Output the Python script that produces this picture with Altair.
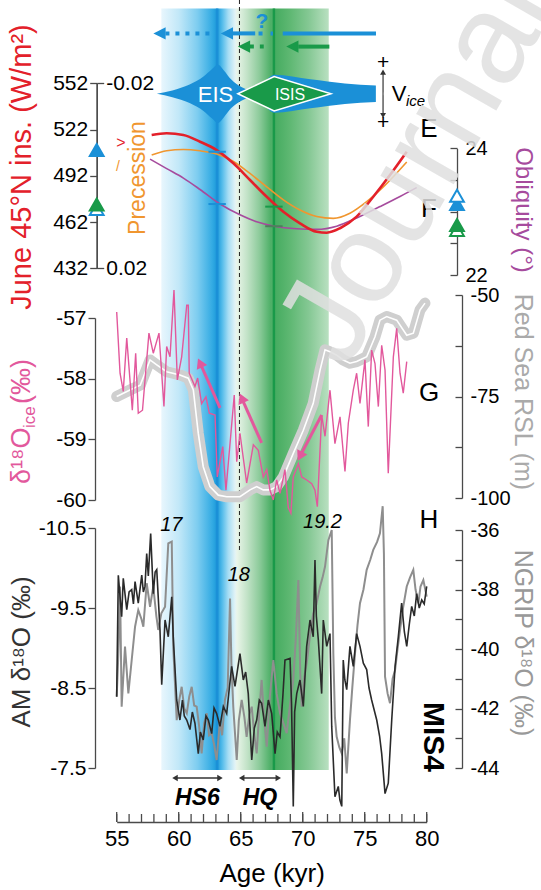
import altair as alt
import pandas as pd
import math

FONT = "Liberation Sans"
PLOT_W, PLOT_H = 310, 822
PAD_L = 116.7
PAD_R = 541 - PAD_L - PLOT_W
PAD_B = 890 - PLOT_H
AGE_DOMAIN = [55, 80]

# value domain -> pixel rows of each panel
S_VICE = ([-1, 1], [123.1, 64.5])
S_INS = ([432, 552], [268.3, 83.3])
S_PREC = ([-0.02, 0.02], [83.3, 268.3])
S_OBL = ([22, 24], [275, 148.3])
S_ICE = ([-60, -57], [500, 318])
S_RSL = ([-100, -50], [498, 295])
S_AM = ([-10.5, -7.5], [528, 768])
S_NG = ([-44, -36], [768, 530])

# ---------------- data ----------------
x_major = [55, 60, 65, 70, 75, 80]
x_minor = list(range(55, 81))

band_start, band_end = 58.6, 72.1
eis_age, isis_age, dash_age = 63.1, 67.68, 64.9
band_stop_age = [58.6, 60.0, 61.5, 62.7, 63.1, 63.5, 64.0, 64.55, 64.7, 65.5, 66.5, 67.4, 67.9, 69.0, 70.5, 72.1]
band_stop_col = ["#e8f6fd", "#c2e8f8", "#7ecdf0", "#33abe3", "#1c99da", "#52bbea", "#a6ddf4", "#e2f3f6",
                 "#e9f5e9", "#c3e3c8", "#8dcb9b", "#4fb068", "#48ad62", "#5fb873", "#85c894", "#b9e0c1"]

# ice-volume outline (half thickness, arbitrary units)
shape_age = [58.24, 59.49, 60.88, 62.0, 62.69, 63.15, 63.66, 64.22, 65.06, 65.89, 66.31, 67.0, 67.7, 70.62, 73.4, 75.9]
shape_half = [0.0, 0.116, 0.317, 0.587, 0.846, 1.0, 0.79, 0.495, 0.235, 0.116, 0.164, 0.437, 0.65, 0.495, 0.35, 0.28]
isis_shape_age = [64.77, 67.7, 72.28]
isis_shape_half = [0.0, 0.587, 0.0]
vice_age = 76.48

# orbital curves
ins_age = [57.82, 59.03, 60.38, 61.72, 63.06, 64.41, 65.75, 67.1, 68.44, 69.78, 71.13, 71.94, 73.01, 74.35, 75.69, 77.04, 78.39]
ins_val = [518.5, 519.6, 518.5, 514.1, 508.7, 500.1, 489.3, 478.4, 468.7, 461.2, 455.7, 455.1, 458.0, 465.5, 478.4, 492.5, 507.6]
prec_age = [57.82, 59.03, 60.38, 61.72, 63.06, 64.41, 65.75, 67.1, 68.44, 69.78, 71.13, 72.47, 73.81, 75.16, 76.5, 78.39]
prec_val = [-0.0045, -0.0054, -0.0057, -0.0054, -0.0047, -0.0031, -0.0005, 0.0024, 0.0052, 0.0074, 0.0088, 0.0092, 0.0081, 0.0056, 0.0024, -0.0030]
obl_age = [57.69, 59.03, 60.38, 61.72, 63.33, 64.94, 66.29, 67.71, 69.52, 71.13, 72.74, 74.35, 76.23, 77.85, 79.19]
obl_val = [23.83, 23.68, 23.53, 23.35, 23.12, 22.95, 22.84, 22.77, 22.73, 22.72, 22.77, 22.90, 23.08, 23.24, 23.38]
ins_mark_val = [507.6, 472.0]
obl_mark_val = [23.12, 22.77]
ins_tri_val = [508.7, 470.4, 473.4]
ins_tri_kind = ["blue_f", "blue_o", "green_f"]
obl_tri_val = [23.12, 23.25, 22.71, 22.79]
obl_tri_kind = ["blue_f", "blue_o", "green_o", "green_f"]

# delta18O ice
ice_age = [55.0, 55.27, 55.53, 55.81, 56.26, 56.53, 56.74, 57.08, 57.6, 57.95, 58.41, 58.81, 59.03, 59.3, 59.62, 59.89,
           60.24, 60.65, 60.77, 60.85, 61.31, 61.53, 61.85, 62.2, 62.47, 62.93, 63.11, 63.55, 63.81, 64.48, 64.68, 64.94,
           65.48, 66.02, 66.42, 66.82, 67.1, 67.36, 67.63, 67.9, 68.17, 68.57, 68.84, 69.05, 69.24, 69.65, 69.92, 70.32,
           70.73, 70.99, 71.18, 71.53, 71.8, 72.2, 72.6, 73.01, 73.41, 73.68, 74.08, 74.35, 74.62, 75.02, 75.29, 75.56,
           75.83, 76.1, 76.37, 76.64, 76.9, 77.31, 77.58, 77.85, 78.11, 78.39]
ice_val = [-56.90, -57.91, -58.21, -57.33, -58.52, -57.58, -58.57, -58.52, -57.25, -57.58, -57.25, -58.46, -57.47, -57.64,
           -56.54, -58.02, -57.64, -56.79, -56.79, -57.91, -58.13, -57.99, -58.41, -58.30, -58.57, -58.60, -59.62, -59.12,
           -59.84, -58.27, -59.37, -58.90, -59.72, -59.09, -59.18, -59.62, -59.50, -59.84, -60.0, -59.67, -59.89, -59.50,
           -60.13, -60.22, -59.62, -59.40, -59.62, -59.67, -59.73, -59.84, -60.11, -58.60, -58.95, -58.19, -59.07, -58.63,
           -59.53, -58.73, -58.19, -57.91, -58.41, -57.69, -58.79, -57.53, -57.75, -58.46, -57.45, -57.86, -59.56, -57.64,
           -57.17, -57.91, -58.24, -57.72]
ice_arrow_from_age = [63.33, 66.69, 71.53]
ice_arrow_from_val = [-58.48, -59.06, -58.60]
ice_arrow_to_age = [61.72, 65.08, 69.78]
ice_arrow_to_val = [-57.74, -58.32, -59.28]

# Red Sea relative sea level
rsl_age = [55.0, 56.07, 56.9, 57.69, 58.23, 59.03, 60.1, 60.77, 61.18, 61.58, 61.98, 62.52, 63.19, 63.87, 64.94, 65.75,
           66.29, 66.82, 67.36, 67.9, 68.44, 69.24, 70.05, 70.85, 71.4, 71.8, 72.2, 72.74, 73.27, 73.81, 74.35, 75.16,
           75.83, 76.23, 76.77, 77.58, 78.39, 78.92, 79.46, 79.86]
rsl_val = [-75.0, -73.4, -72.2, -66.0, -67.2, -68.9, -69.7, -70.5, -73.4, -84.1, -92.3, -97.2, -99.3, -99.7, -99.7, -98.0,
           -97.2, -98.0, -98.0, -97.2, -94.8, -89.0, -83.3, -76.7, -68.5, -63.5, -64.0, -64.8, -66.0, -66.8, -66.4, -65.2,
           -60.3, -56.2, -55.3, -56.2, -59.9, -59.4, -53.7, -52.0]

# Asian monsoon delta18O
am_age = [55.0, 55.13, 55.4, 55.53, 55.81, 56.0, 56.21, 56.35, 56.48, 56.74, 57.02, 57.15, 57.28, 57.42, 57.55, 57.74,
          57.95, 58.1, 58.23, 58.49, 58.63, 58.9, 59.16, 59.44, 59.56, 59.84, 60.1, 60.3, 60.45, 60.65, 60.91, 61.1,
          61.31, 61.58, 61.75, 61.98, 62.2, 62.39, 62.66, 62.85, 63.06, 63.33, 63.6, 63.87, 64.05, 64.27, 64.54, 64.94,
          65.21, 65.4, 65.61, 65.89, 66.1, 66.29, 66.5, 66.69, 66.96, 67.23, 67.5, 67.77, 67.95, 68.17, 68.4, 68.57,
          68.98, 69.1, 69.24, 69.35, 69.52, 69.78, 70.05, 70.32, 70.59, 70.85, 70.99, 71.1, 71.26, 71.53, 71.66, 71.94,
          72.2, 72.34, 72.6, 72.87, 73.0, 73.15, 73.27, 73.4, 73.55, 73.81, 74.08, 74.35, 74.62, 74.89, 75.16, 75.35,
          75.56, 75.97, 76.2, 76.37, 76.64, 76.9, 77.18, 77.45, 77.71, 77.98, 78.2, 78.39, 78.6, 78.79, 79.0, 79.19,
          79.4, 79.6, 79.8, 80.0]
am_val = [-8.39, -9.91, -9.39, -9.87, -9.48, -9.7, -9.73, -9.55, -9.83, -9.56, -9.91, -9.7, -9.77, -10.18, -9.9, -10.43,
          -9.68, -9.95, -9.98, -9.23, -8.54, -9.35, -9.14, -9.64, -9.14, -8.35, -8.10, -8.35, -8.15, -8.10, -7.98, -8.2,
          -8.06, -7.68, -7.95, -7.85, -8.15, -8.10, -7.93, -8.25, -8.18, -8.02, -8.27, -8.18, -8.45, -8.77, -8.52, -8.93,
          -8.6, -8.7, -8.43, -7.6, -8.0, -8.10, -8.35, -8.31, -8.02, -8.35, -8.18, -7.68, -7.95, -7.89, -8.4, -8.85,
          -8.87, -8.3, -7.02, -8.2, -8.43, -8.6, -8.27, -9.02, -9.35, -9.14, -10.1, -9.4, -9.1, -8.43, -9.35, -9.02,
          -9.18, -8.02, -7.14, -7.27, -7.1, -7.02, -8.85, -8.6, -8.48, -9.02, -8.77, -9.18, -9.02, -8.81, -8.73, -8.5,
          -8.35, -8.1, -7.9, -7.68, -7.18, -7.31, -8.1, -8.77, -9.14, -9.56, -9.2, -9.02, -9.3, -9.52, -9.4, -9.68,
          -9.5, -9.6, -9.55, -9.77]

# NGRIP delta18O
ng_age = [55.0, 55.13, 55.27, 55.4, 55.67, 55.94, 56.21, 56.48, 56.74, 57.0, 57.15, 57.42, 57.69, 57.95, 58.2, 58.35,
          58.6, 58.9, 59.16, 59.44, 59.56, 59.84, 60.05, 60.24, 60.45, 60.65, 60.85, 61.05, 61.25, 61.45, 61.65, 61.85,
          62.05, 62.26, 62.45, 62.66, 62.85, 63.06, 63.33, 63.5, 63.73, 63.95, 64.14, 64.25, 64.4, 64.68, 64.85, 65.08,
          65.3, 65.48, 65.7, 65.89, 66.1, 66.29, 66.5, 66.69, 66.9, 67.1, 67.35, 67.63, 67.9, 68.17, 68.45, 68.71, 69.0,
          69.24, 69.45, 69.65, 69.8, 69.92, 70.1, 70.32, 70.6, 70.85, 71.1, 71.4, 71.6, 71.8, 72.07, 72.34, 72.47, 72.6,
          72.74, 72.95, 73.15, 73.35, 73.55, 73.81, 74.0, 74.22, 74.42, 74.62, 74.9, 75.16, 75.45, 75.69, 76.0, 76.23,
          76.45, 76.55, 76.64, 76.85, 77.04, 77.25, 77.45, 77.65, 77.85, 78.1, 78.39, 78.65, 78.92, 79.1, 79.33, 79.5,
          79.73, 80.0]
ng_val = [-41.6, -40.2, -37.9, -41.94, -39.92, -41.49, -40.37, -39.25, -38.69, -39.0, -39.25, -37.79, -38.58, -37.9,
          -38.9, -39.36, -38.8, -38.58, -36.45, -36.39, -39.92, -42.39, -41.7, -41.27, -42.0, -42.16, -41.6, -41.27,
          -41.9, -41.94, -42.6, -43.51, -42.5, -42.16, -42.9, -42.83, -43.2, -43.73, -42.39, -42.9, -41.71, -41.3,
          -38.3, -40.5, -41.94, -43.73, -42.4, -41.71, -42.3, -42.95, -42.2, -41.94, -42.9, -43.51, -42.1, -41.04,
          -42.4, -43.28, -41.6, -40.37, -41.5, -42.16, -42.5, -42.83, -41.8, -41.04, -39.6, -37.68, -40.8, -41.94,
          -41.0, -40.48, -39.5, -38.8, -38.5, -37.9, -37.6, -37.23, -36.34, -36.0, -40.14, -42.3, -42.95, -43.3,
          -43.51, -43.0, -44.18, -42.39, -41.3, -40.14, -39.2, -38.46, -38.0, -37.34, -37.0, -36.67, -36.4, -36.11,
          -35.2, -36.8, -40.93, -41.5, -41.82, -41.0, -40.71, -40.0, -39.36, -38.6, -37.9, -37.6, -37.34, -38.0,
          -38.46, -37.9, -37.68, -38.24]

# top arrows (ages)
blue_solid = [(64.35, 66.17), (68.39, 75.91)]
blue_dot = [(58.93, 62.69)]
blue_dot2 = [(66.44, 67.6)]
blue_tip = [63.39, 57.96]
green_solid = [(69.64, 72.15)]
green_dot = [(65.74, 66.86)]
green_tip = [68.67, 64.77]

# Heinrich stadials
hs_from = [59.7, 65.08]
hs_to = [63.33, 68.03]
hs_label = ["HS6", "HQ"]

BLUE = "#1b90d7"
GREEN = "#199a49"
RED = "#e3202a"
ORANGE = "#f0962f"
PURPLE = "#a64b9d"
PINK = "#e2589c"


# ---------------- helpers ----------------
def xsc():
    return alt.Scale(domain=AGE_DOMAIN, nice=False, zero=False)


def X(field="age", axis=None):
    return alt.X(f"{field}:Q", scale=xsc(), axis=axis)


def Y(field, s, axis=None):
    return alt.Y(f"{field}:Q", scale=alt.Scale(domain=s[0], range=s[1], nice=False, zero=False), axis=axis)


def px_x(age):
    return (age - AGE_DOMAIN[0]) / (AGE_DOMAIN[1] - AGE_DOMAIN[0]) * PLOT_W


def px_y(v, s):
    (d0, d1), (r0, r1) = s
    return r0 + (v - d0) / (d1 - d0) * (r1 - r0)


def line(ages, vals, s, **mk):
    df = pd.DataFrame({"age": ages, "val": vals})
    return alt.Chart(df).mark_line(**mk).encode(x=X(), y=Y("val", s))


def text(t, px, py, size, color="black", angle=0, **kw):
    mk = dict(fontSize=size, color=color, font=FONT, align=kw.pop("align", "center"),
              baseline=kw.pop("baseline", "middle"))
    if angle:
        mk["angle"] = angle
    mk.update(kw)
    return alt.Chart(pd.DataFrame({"t": [t]})).mark_text(**mk).encode(
        x=alt.value(px - PAD_L), y=alt.value(py), text="t:N")


AX = dict(title=None, grid=False, domainColor="#4a4a4a", tickColor="#4a4a4a", domainWidth=1.3, tickWidth=1.3,
          labelFont=FONT, labelFontSize=21, labelColor="black", labelOverlap=False, labelFlush=False,
          labelExpr="replace(datum.label, '\u2212', '-')")


def axis_layer(vals, s, **kw):
    a = dict(AX)
    a.update(kw)
    return alt.Chart(pd.DataFrame({"v": vals})).mark_point(opacity=0).encode(
        y=Y("v", s, axis=alt.Axis(**a)))


layers = []

# ---- shaded bands ----
grad = alt.LinearGradient(
    gradient="linear", x1=0, x2=1, y1=0, y2=0,
    stops=[alt.GradientStop(color=c, offset=(a - band_start) / (band_end - band_start))
           for a, c in zip(band_stop_age, band_stop_col)])
layers.append(alt.Chart(pd.DataFrame({"a": [band_start], "b": [band_end]})).mark_rect(color=grad).encode(
    x=X("a"), x2="b:Q", y=alt.value(8.6), y2=alt.value(770)))
layers.append(alt.Chart(pd.DataFrame({"age": [eis_age, isis_age], "c": [BLUE, GREEN]})).mark_rule(strokeWidth=2.5).encode(
    x=X(), y=alt.value(8.6), y2=alt.value(770), color=alt.Color("c:N", scale=None)))
layers.append(alt.Chart(pd.DataFrame({"age": [dash_age]})).mark_rule(strokeWidth=1, color="#222", strokeDash=[4, 3]).encode(
    x=X(), y=alt.value(0), y2=alt.value(553)))

# ---- ice sheet shape ----
sdf = pd.DataFrame({"age": shape_age, "hi": shape_half, "lo": [-h for h in shape_half]})
layers.append(alt.Chart(sdf).mark_area(color=BLUE, interpolate="monotone").encode(
    x=X(), y=Y("hi", S_VICE), y2="lo:Q"))
idf = pd.DataFrame({"age": isis_shape_age, "hi": isis_shape_half, "lo": [-h for h in isis_shape_half]})
layers.append(alt.Chart(idf).mark_area(color=GREEN, stroke="white", strokeWidth=1.5).encode(
    x=X(), y=Y("hi", S_VICE), y2="lo:Q"))
layers.append(text("EIS", 215.5, 95, 22, "white"))
layers.append(text("ISIS", 290, 95, 16, "white"))
# V_ice double arrow
vdf = pd.DataFrame({"age": [vice_age], "a": [-0.74], "b": [0.74]})
layers.append(alt.Chart(vdf).mark_rule(color="#333", strokeWidth=1.2).encode(x=X(), y=Y("a", S_VICE), y2="b:Q"))
layers.append(alt.Chart(pd.DataFrame({"age": [vice_age, vice_age], "v": [0.74, -0.74], "s": ["triangle-up", "triangle-down"]}))
              .mark_point(filled=True, color="#333", size=35, opacity=1).encode(
    x=X(), y=Y("v", S_VICE), shape=alt.Shape("s:N", scale=None)))
layers.append(alt.Chart(pd.DataFrame({"age": [vice_age], "a": [-0.05], "b": [0.05]}))
              .mark_rule(color="#999", strokeWidth=1).encode(x=X(), y=Y("a", S_VICE), y2="b:Q"))
layers.append(alt.Chart(pd.DataFrame({"age": [vice_age, vice_age], "v": [1.04, -1.0], "t": ["+", "+"]}))
              .mark_text(fontSize=21, font=FONT, color="black").encode(x=X(), y=Y("v", S_VICE), text="t:N"))
layers.append(text("V", 399, 94, 22, "black"))
layers.append(text("ice", 406, 101, 15, "black", align="left", fontStyle="italic"))

# ---- top arrows ----
def seg_layer(segs, py, color, dash=None):
    df = pd.DataFrame({"a": [s[0] for s in segs], "b": [s[1] for s in segs]})
    mk = dict(color=color, strokeWidth=4)
    if dash:
        mk["strokeDash"] = dash
    return alt.Chart(df).mark_rule(**mk).encode(x=X("a"), x2="b:Q", y=alt.value(py))


HEAD = "M0,0L1,-0.5L1,0.5Z"
layers.append(seg_layer(blue_solid, 33.4, BLUE))
layers.append(seg_layer(blue_dot, 33.4, BLUE, [4, 6]))
layers.append(seg_layer(blue_dot2, 33.4, BLUE, [4, 8]))
layers.append(seg_layer(green_solid, 46.6, GREEN))
layers.append(seg_layer(green_dot, 46.6, GREEN, [4, 6]))
layers.append(alt.Chart(pd.DataFrame({"age": blue_tip})).mark_point(shape=HEAD, filled=True, color=BLUE, size=600, opacity=1)
              .encode(x=X(), y=alt.value(33.4)))
layers.append(alt.Chart(pd.DataFrame({"age": green_tip})).mark_point(shape=HEAD, filled=True, color=GREEN, size=600, opacity=1)
              .encode(x=X(), y=alt.value(46.6)))
layers.append(text("?", 262, 22, 21, BLUE, fontWeight="bold"))

# ---- orbital panel ----
layers.append(line(obl_age, obl_val, S_OBL, color=PURPLE, strokeWidth=1.6, interpolate="monotone"))
layers.append(line(prec_age, prec_val, S_PREC, color=ORANGE, strokeWidth=1.6, interpolate="monotone"))
layers.append(line(ins_age, ins_val, S_INS, color=RED, strokeWidth=2.6, interpolate="monotone"))
MW = 0.7
mk_df = pd.DataFrame({"a": [eis_age - MW, isis_age - MW], "b": [eis_age + MW, isis_age + MW],
                      "v": ins_mark_val, "c": [BLUE, GREEN]})
layers.append(alt.Chart(mk_df).mark_rule(strokeWidth=2).encode(x=X("a"), x2="b:Q", y=Y("v", S_INS),
                                                                color=alt.Color("c:N", scale=None)))
mk_df2 = pd.DataFrame({"a": [eis_age - MW, isis_age - MW], "b": [eis_age + MW, isis_age + MW],
                       "v": obl_mark_val, "c": [BLUE, "#4f7f5d"]})
layers.append(alt.Chart(mk_df2).mark_rule(strokeWidth=2).encode(x=X("a"), x2="b:Q", y=Y("v", S_OBL),
                                                                 color=alt.Color("c:N", scale=None)))

TRI = {"blue_f": (BLUE, BLUE), "blue_o": ("white", BLUE), "green_f": (GREEN, GREEN), "green_o": ("white", GREEN)}
tdf = pd.DataFrame({"v": ins_tri_val, "f": [TRI[k][0] for k in ins_tri_kind], "s": [TRI[k][1] for k in ins_tri_kind]})
layers.append(alt.Chart(tdf).mark_point(shape="triangle-up", size=190, strokeWidth=2, opacity=1, filled=True).encode(
    x=alt.value(-20), y=Y("v", S_INS), fill=alt.Fill("f:N", scale=None), stroke=alt.Stroke("s:N", scale=None)))
tdf2 = pd.DataFrame({"v": obl_tri_val, "f": [TRI[k][0] for k in obl_tri_kind], "s": [TRI[k][1] for k in obl_tri_kind]})
layers.append(alt.Chart(tdf2).mark_point(shape="triangle-up", size=190, strokeWidth=2, opacity=1, filled=True).encode(
    x=alt.value(340.3), y=Y("v", S_OBL), fill=alt.Fill("f:N", scale=None), stroke=alt.Stroke("s:N", scale=None)))

# ---- G panel ----
layers.append(line(rsl_age, rsl_val, S_RSL, color="#cfcfcf", strokeWidth=11, strokeJoin="round", strokeCap="round"))
layers.append(line(rsl_age, rsl_val, S_RSL, color="white", strokeWidth=1.6))
layers.append(line(ice_age, ice_val, S_ICE, color=PINK, strokeWidth=1.4))
adf = pd.DataFrame({"a": ice_arrow_from_age, "b": ice_arrow_to_age, "v": ice_arrow_from_val, "w": ice_arrow_to_val})
layers.append(alt.Chart(adf).mark_rule(color=PINK, strokeWidth=3).encode(x=X("a"), x2="b:Q", y=Y("v", S_ICE), y2="w:Q"))
ang = []
for a0, v0, a1, v1 in zip(ice_arrow_from_age, ice_arrow_from_val, ice_arrow_to_age, ice_arrow_to_val):
    dx = px_x(a1) - px_x(a0)
    dy = px_y(v1, S_ICE) - px_y(v0, S_ICE)
    ang.append(math.degrees(math.atan2(dx, -dy)) % 360)
hdf = pd.DataFrame({"age": ice_arrow_to_age, "v": ice_arrow_to_val, "ang": ang})
layers.append(alt.Chart(hdf).mark_point(shape="triangle-up", filled=True, color=PINK, size=130, opacity=1).encode(
    x=X(), y=Y("v", S_ICE), angle=alt.Angle("ang:Q", scale=None)))

# ---- H panel ----
layers.append(line(ng_age, ng_val, S_NG, color="#8e8e8e", strokeWidth=2))
layers.append(line(am_age, am_val, S_AM, color="#2a2a2a", strokeWidth=1.6))

# ---- axes ----
layers.append(axis_layer([432, 462, 492, 522, 552], S_INS, orient="left", offset=20, values=[432, 462, 492, 522, 552],
                         tickSize=7, labelPadding=2))
layers.append(axis_layer([-0.02, 0.02], S_PREC, orient="right", offset=-(PLOT_W + 20), values=[-0.02, 0.02],
                         tickSize=7, labelPadding=2, format=".2f"))
layers.append(axis_layer([22, 24], S_OBL, orient="left", offset=-340.3, values=[22, 22.5, 23, 23.5, 24],
                         tickSize=7, labels=False))
layers.append(axis_layer([22, 24], S_OBL, orient="right", offset=340.3 - PLOT_W, values=[22, 23, 24],
                         ticks=False, domain=False, labelPadding=8, format="d", labelFontSize=20))
layers.append(axis_layer([-60, -57], S_ICE, orient="left", offset=21.7, values=[-60, -59, -58, -57],
                         tickSize=7, labelPadding=2))
layers.append(axis_layer([-100, -50], S_RSL, orient="left", offset=-345.3, values=[-100, -87.5, -75, -62.5, -50],
                         tickSize=7, labels=False))
layers.append(axis_layer([-100, -50], S_RSL, orient="right", offset=345.3 - PLOT_W, values=[-100, -75, -50],
                         ticks=False, domain=False, labelPadding=8, labelFontSize=20))
layers.append(axis_layer([-10.5, -7.5], S_AM, orient="left", offset=21.7, values=[-10.5, -9.5, -8.5, -7.5],
                         tickSize=7, labelPadding=2, format=".1f"))
layers.append(axis_layer([-44, -36], S_NG, orient="left", offset=-345.3, values=[-44, -43, -42, -41, -40, -39, -38, -37, -36],
                         tickSize=7, labels=False))
layers.append(axis_layer([-44, -36], S_NG, orient="right", offset=345.3 - PLOT_W, values=[-44, -42, -40, -38, -36],
                         ticks=False, domain=False, labelPadding=8, labelFontSize=20))

# x axis with inward ticks
tick_df = pd.DataFrame({"age": x_minor})
layers.append(alt.Chart(tick_df).mark_rule(color="#4a4a4a", strokeWidth=1.3).encode(
    x=X(), y=alt.value(PLOT_H - 8), y2=alt.value(PLOT_H)))
layers.append(alt.Chart(pd.DataFrame({"age": x_major})).mark_rule(color="#4a4a4a", strokeWidth=1.3).encode(
    x=X(axis=alt.Axis(orient="bottom", values=x_major, ticks=False, domain=True, domainColor="#4a4a4a", domainWidth=1.3,
                      labelFont=FONT, labelFontSize=22, labelColor="black", labelPadding=6, labelFlush=False,
                      title="Age (kyr)", titleFont=FONT, titleFontSize=26, titleFontWeight="normal",
                      titleColor="black", titlePadding=11, grid=False)),
    y=alt.value(PLOT_H - 10), y2=alt.value(PLOT_H)))

# Heinrich arrows
hsd = pd.DataFrame({"a": hs_from, "b": hs_to})
layers.append(alt.Chart(hsd).mark_rule(color="#333", strokeWidth=1.3).encode(x=X("a"), x2="b:Q", y=alt.value(778)))
layers.append(alt.Chart(pd.DataFrame({"age": hs_from})).mark_point(shape="triangle-left", filled=True, color="#333", size=40, opacity=1)
              .encode(x=X(), y=alt.value(778)))
layers.append(alt.Chart(pd.DataFrame({"age": hs_to})).mark_point(shape="triangle-right", filled=True, color="#333", size=40, opacity=1)
              .encode(x=X(), y=alt.value(778)))
layers.append(alt.Chart(pd.DataFrame({"age": [(a + b) / 2 for a, b in zip(hs_from, hs_to)], "t": hs_label}))
              .mark_text(fontSize=23, font=FONT, fontWeight="bold", fontStyle="italic", color="black").encode(
    x=X(), y=alt.value(798), text="t:N"))

# ---- titles and annotations ----
layers.append(text("June 45°N ins. (W/m²)", 22, 167, 29, RED, angle=270))
layers.append(text("Precession", 138, 178, 23, ORANGE, angle=270))
layers.append(text(">", 121, 143, 16, RED))
layers.append(text("/", 118, 167, 14, ORANGE))
layers.append(text("δ¹⁸O", 22, 484, 27, PINK, angle=270, align="left"))
layers.append(text("ice", 30, 428, 17, PINK, angle=270, align="left"))
layers.append(text("(‰)", 22, 404, 27, PINK, angle=270, align="left"))
layers.append(text("AM δ¹⁸O (‰)", 22, 652, 26, "#333333", angle=270))
layers.append(text("Obliquity (°)", 523, 210, 24, PURPLE, angle=90))
layers.append(text("Red Sea RSL (m)", 523, 392, 25, "#aaaaaa", angle=90))
layers.append(text("NGRIP δ¹⁸O (‰)", 523, 643, 25, "#999999", angle=90))
for lab, py in [("E", 129), ("F", 209), ("G", 393), ("H", 520)]:
    layers.append(text(lab, 429, py, 26))
layers.append(text("MIS4", 433, 737, 30, fontWeight="bold", angle=90))
layers.append(alt.Chart(pd.DataFrame({"age": [59.4, 64.85, 71.6], "t": ["17", "18", "19.2"], "y": [525, 575, 522]}))
              .mark_text(fontSize=20, font=FONT, fontStyle="italic", color="black").encode(
    x=X(), y=alt.Y("y:Q", scale=None), text="t:N"))

# watermark
layers.append(text("Journal", 418, 170, 128, "#e0e0e0", angle=300, opacity=0.85))

chart = alt.layer(*layers).resolve_scale(y="independent").resolve_axis(x="independent").properties(
    width=PLOT_W, height=PLOT_H,
    padding={"left": PAD_L, "top": 0, "right": PAD_R, "bottom": PAD_B},
    autosize=alt.AutoSizeParams(type="none"),
    background="white",
).configure_view(stroke=None)

chart.save("out.html", embed_options={"renderer": "svg", "actions": False})
